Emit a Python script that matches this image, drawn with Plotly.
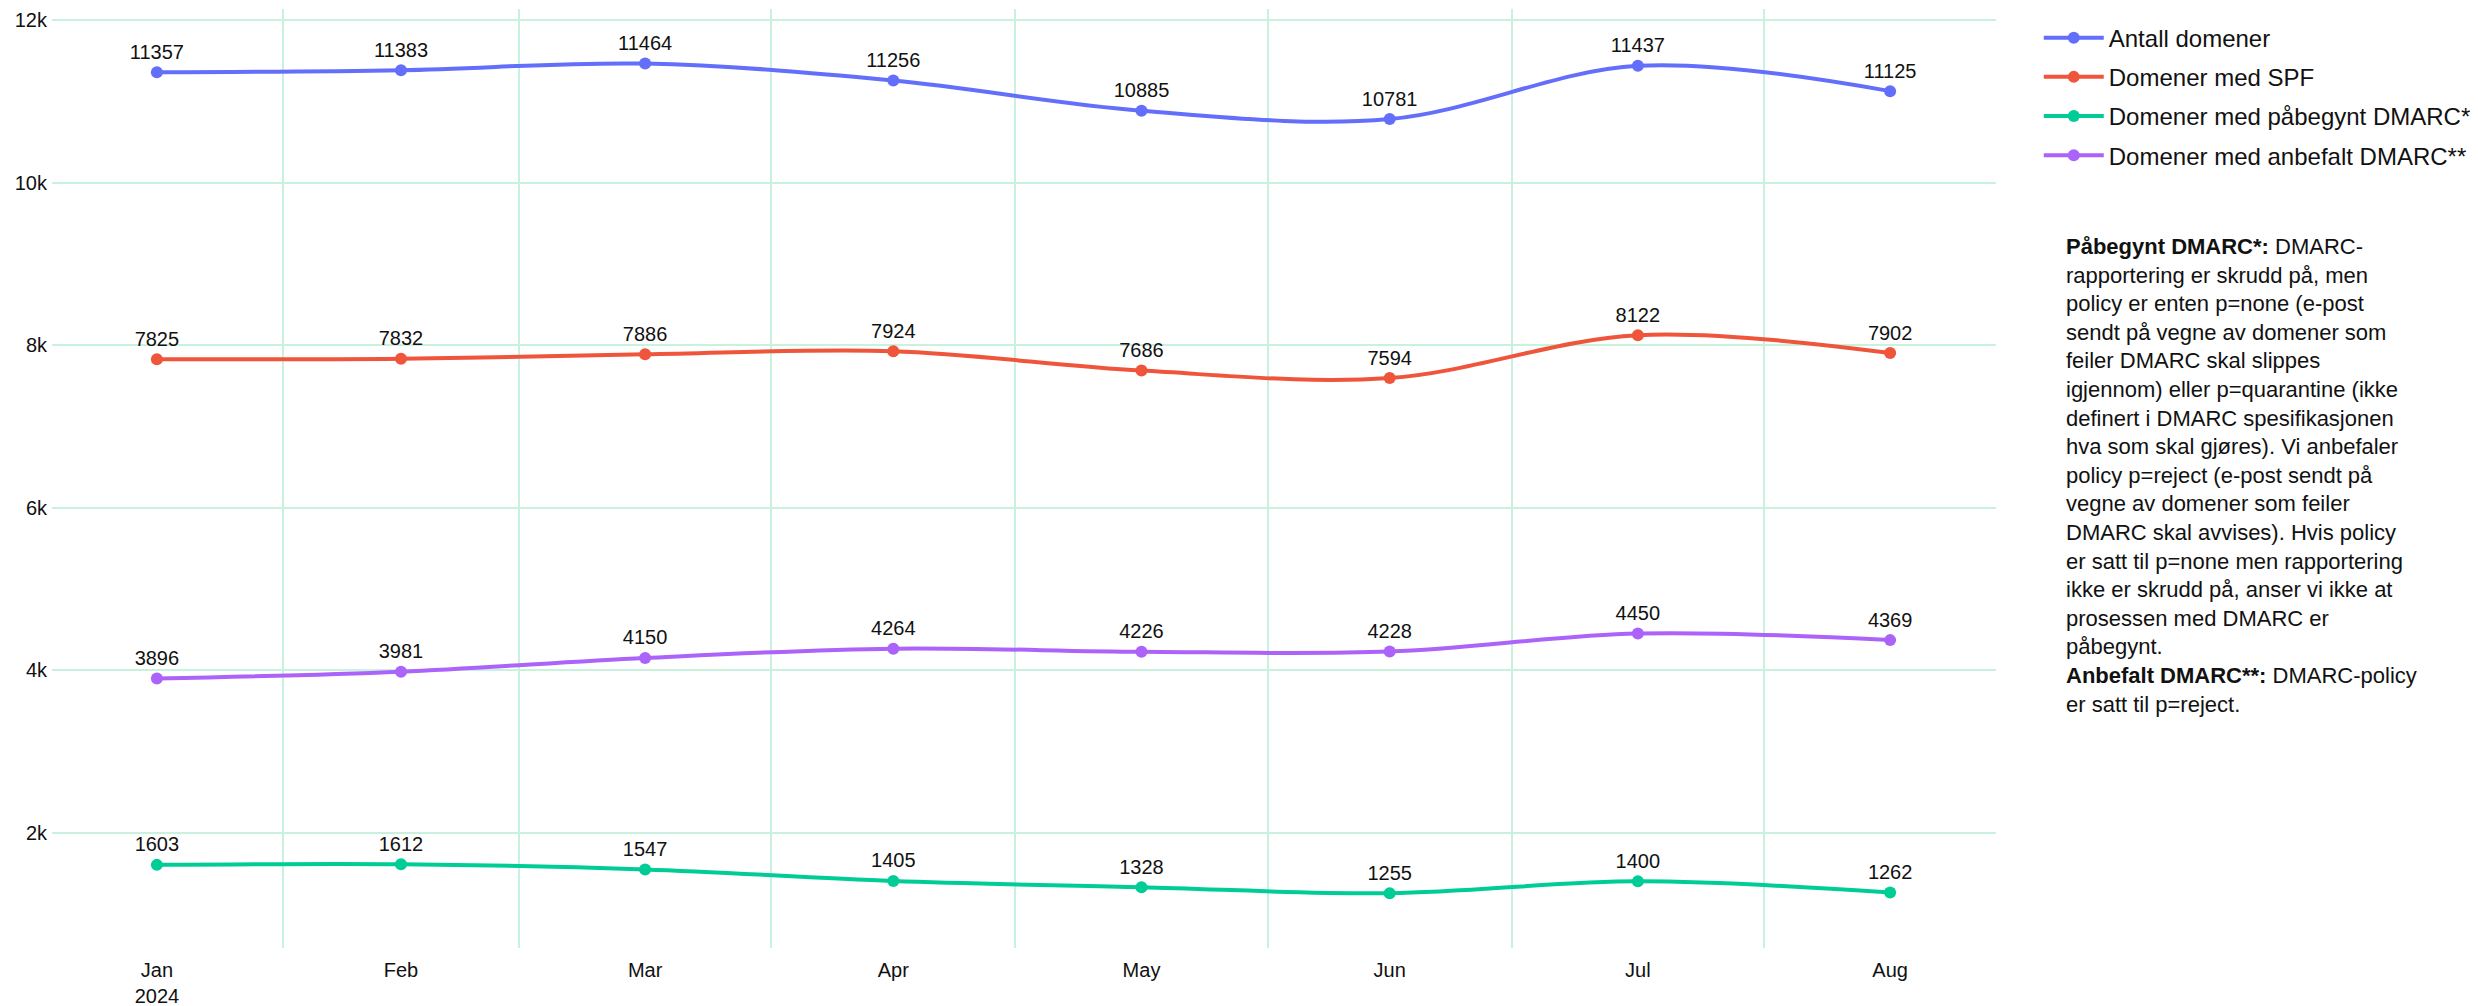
import plotly.graph_objects as go

# Monthly observations (first day of each month, drawn at mid-period)
months = ["2024-01-01", "2024-02-01", "2024-03-01", "2024-04-01",
          "2024-05-01", "2024-06-01", "2024-07-01", "2024-08-01"]

antall_domener = [11357, 11383, 11464, 11256, 10885, 10781, 11437, 11125]
domener_spf = [7825, 7832, 7886, 7924, 7686, 7594, 8122, 7902]
domener_pabegynt = [1603, 1612, 1547, 1405, 1328, 1255, 1400, 1262]
domener_anbefalt = [3896, 3981, 4150, 4264, 4226, 4228, 4450, 4369]

series_names = [
    "Antall domener",
    "Domener med SPF",
    "Domener med påbegynt DMARC*",
    "Domener med anbefalt DMARC**",
]
series_values = [antall_domener, domener_spf, domener_pabegynt, domener_anbefalt]
series_colors = ["#636efa", "#EF553B", "#00cc96", "#ab63fa"]

y_tick_values = [2000, 4000, 6000, 8000, 10000, 12000]
y_tick_labels = ["2k", "4k", "6k", "8k", "10k", "12k"]

note_text = (
    "<b>Påbegynt DMARC*:</b> DMARC-<br>"
    "rapportering er skrudd på, men<br>"
    "policy er enten p=none (e-post<br>"
    "sendt på vegne av domener som<br>"
    "feiler DMARC skal slippes<br>"
    "igjennom) eller p=quarantine (ikke<br>"
    "definert i DMARC spesifikasjonen<br>"
    "hva som skal gjøres). Vi anbefaler<br>"
    "policy p=reject (e-post sendt på<br>"
    "vegne av domener som feiler<br>"
    "DMARC skal avvises). Hvis policy<br>"
    "er satt til p=none men rapportering<br>"
    "ikke er skrudd på, anser vi ikke at<br>"
    "prosessen med DMARC er<br>"
    "påbegynt.<br>"
    "<b>Anbefalt DMARC**:</b> DMARC-policy<br>"
    "er satt til p=reject."
)

FONT = "Liberation Sans, Arial, sans-serif"
GRID = "#c8f2de"

fig = go.Figure()
for name, vals, color in zip(series_names, series_values, series_colors):
    fig.add_trace(go.Scatter(
        x=months,
        y=vals,
        name=name,
        legendgroup=name,
        mode="lines+markers+text",
        text=[str(v) for v in vals],
        textposition="top center",
        textfont=dict(size=20, color="#111111", family=FONT),
        line=dict(color=color, width=4, shape="spline"),
        marker=dict(color=color, size=12),
        xperiod="M1",
        xperiodalignment="middle",
    ))

fig.add_annotation(
    text=note_text,
    xref="paper", yref="paper",
    x=1.035, y=0.762,
    xanchor="left", yanchor="top",
    align="left",
    showarrow=False,
    font=dict(size=22, color="#111111", family=FONT),
)

fig.update_layout(
    width=2478,
    height=1006,
    margin=dict(l=52, r=482, t=9, b=58, autoexpand=False),
    paper_bgcolor="white",
    plot_bgcolor="white",
    font=dict(family=FONT, size=20, color="#111111"),
    legend=dict(
        x=1.022, y=0.993, xanchor="left", yanchor="top",
        font=dict(size=24, family=FONT, color="#111111"),
        itemwidth=60,
        tracegroupgap=5,
    ),
    xaxis=dict(
        range=["2024-01-03 14:40", "2024-08-29 12:15"],
        dtick="M1",
        ticklabelmode="period",
        tickformat="%b\n%Y",
        showgrid=True,
        gridcolor=GRID,
        gridwidth=2,
        zeroline=False,
        showline=False,
        automargin=False,
        tickfont=dict(size=20),
        ticklabelstandoff=8,
    ),
    yaxis=dict(
        range=[580, 12136],
        tickvals=y_tick_values,
        ticktext=y_tick_labels,
        showgrid=True,
        gridcolor=GRID,
        gridwidth=2,
        zeroline=False,
        showline=False,
        automargin=False,
        tickfont=dict(size=20),
        ticklabelstandoff=4,
    ),
)

fig.write_html("out.html")
